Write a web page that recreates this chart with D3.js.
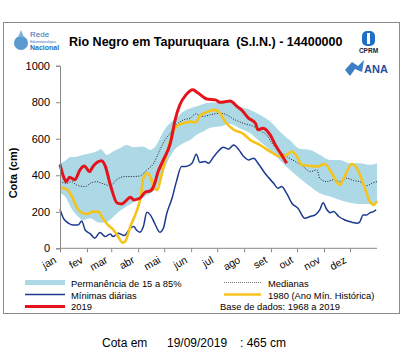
<!DOCTYPE html>
<html><head><meta charset="utf-8">
<script src="https://cdn.jsdelivr.net/npm/d3@7"></script>
<style>html,body{margin:0;padding:0;background:#fff;}svg{display:block;font-family:Arial,"Liberation Sans",sans-serif;}</style>
</head><body><svg id="c" width="416" height="360"></svg>
<script>
const monthLabels = ["jan","fev","mar","abr","mai","jun","jul","ago","set","out","nov","dez"];
const monthStarts = [0,31,59,90,120,151,181,212,243,273,304,334];
const yTicks = [0,200,400,600,800,1000];

// Permanência 15-85% band: [day, lower, upper]
const bandDays  = [0,6,12,19,27,35,42,47,54,61,69,77,84,88,94,100,104,111,117,123,129,136,142,150,157,165,173,184,196,207,219,230,242,253,265,276,288,299,311,322,334,345,357,365];
const bandLow   = [301,283,228,183,155,164,146,140,145,170,205,230,250,262,275,290,301,329,393,466,521,557,575,594,621,640,660,667,681,658,630,585,539,484,429,384,338,301,283,265,250,243,243,247];
const bandHigh  = [466,480,500,502,512,521,530,543,512,530,548,566,554,555,557,548,539,566,621,667,694,722,749,767,776,790,798,797,805,776,758,731,694,640,590,545,539,512,484,484,466,466,457,466];

// Medianas
const medDays = [0,8,13,19,29,35,42,48,58,65,75,84,92,100,108,115,121,127,134,142,150,156,165,173,184,192,200,211,223,232,238,244,251,261,271,280,288,296,299,307,315,322,330,338,345,353,359,365];
const medVals = [365,356,365,347,338,356,365,356,343,375,393,393,396,429,466,539,594,630,676,703,713,736,722,731,740,731,707,685,667,640,621,576,539,502,475,448,420,429,384,365,375,365,384,371,365,342,356,365];

// Mínimas diárias
const minDays = [0,4,10,15,21,25,29,35,40,46,52,58,61,67,74,81,85,88,92,96,100,104,109,115,119,123,129,134,140,145,152,157,161,167,171,177,182,188,194,200,206,211,217,223,228,236,246,251,255,261,267,274,282,288,294,299,303,307,311,315,321,328,336,342,345,349,353,357,361,364];
const minVals = [214,164,137,128,128,150,100,79,55,86,64,79,64,82,70,110,119,100,88,119,197,183,137,88,110,192,274,365,448,448,466,515,470,475,466,502,530,554,543,566,539,506,484,493,466,411,356,329,338,301,247,219,164,174,183,210,250,214,195,201,174,155,143,137,143,183,183,195,201,210];

// 1980 (Ano Mín. Histórica)
const y1980Days = [0,8,13,19,25,31,38,44,50,56,61,67,72,75,81,88,93,96,100,104,108,112,117,123,129,134,142,150,156,161,169,179,184,190,200,211,219,230,242,251,257,267,273,278,288,296,305,313,322,328,336,342,349,358,361,365];
const y1980Vals = [333,323,292,228,195,188,201,201,159,124,104,64,31,37,119,201,283,384,411,393,338,320,402,521,621,667,685,694,689,725,746,758,740,694,649,627,594,566,530,506,502,530,502,457,451,448,462,411,347,396,462,438,356,247,238,259];

// 2019
const y2019Days = [0,4,7,11,17,23,28,34,38,48,52,58,66,71,77,81,85,92,98,104,108,113,119,127,133,138,145,153,159,169,179,184,196,204,209,217,225,228,234,242,248,255,261];
const y2019Vals = [460,393,365,389,375,430,451,420,448,479,451,347,247,243,265,280,265,274,307,314,342,420,484,575,712,786,840,868,850,818,813,800,806,776,758,713,685,649,658,621,566,512,466];

const svg = d3.select("#c");
// frame
svg.append("rect").attr("x",3.5).attr("y",22.5).attr("width",396).attr("height",291)
  .attr("fill","#fff").attr("stroke","#8a8a8a").attr("stroke-width",1);

const x = d3.scaleLinear().domain([0,365]).range([60,377]);
const y = d3.scaleLinear().domain([0,1000]).range([248.3,65.7]);

// band
const band = bandDays.map((d,i)=>({d, lo:bandLow[i], hi:bandHigh[i]}));
svg.append("path").datum(band)
  .attr("d", d3.area().x(p=>x(p.d)).y0(p=>y(p.lo)).y1(p=>y(p.hi)).curve(d3.curveMonotoneX))
  .attr("fill","#add8e6");

const line = d3.line().x(p=>x(p[0])).y(p=>y(p[1])).curve(d3.curveMonotoneX);
const zipp = (a,b)=>a.map((d,i)=>[d,b[i]]);

svg.append("path").datum(zipp(medDays,medVals)).attr("d",line)
  .attr("fill","none").attr("stroke","#222").attr("stroke-width",1).attr("stroke-dasharray","1,1.5");
svg.append("path").datum(zipp(minDays,minVals)).attr("d",line)
  .attr("fill","none").attr("stroke","#1c3a8f").attr("stroke-width",1.5);
svg.append("path").datum(zipp(y1980Days,y1980Vals)).attr("d",line)
  .attr("fill","none").attr("stroke","#f6c31c").attr("stroke-width",2.6);
svg.append("path").datum(zipp(y2019Days,y2019Vals)).attr("d",line)
  .attr("fill","none").attr("stroke","#e3141b").attr("stroke-width",3);

// axes
const yAx = svg.append("g").attr("transform","translate(60,0)")
  .call(d3.axisLeft(y).tickValues(yTicks).tickSize(4).tickPadding(6).tickFormat(d3.format("d")));
yAx.selectAll("path,line").attr("stroke","#888");
yAx.selectAll("text").attr("font-size","11px").attr("fill","#000").attr("font-family","Arial, Liberation Sans, sans-serif");

const xAx = svg.append("g").attr("transform","translate(0,248.3)")
  .call(d3.axisBottom(x).tickValues(monthStarts.concat([365])).tickSize(4).tickFormat(""));
xAx.selectAll("path,line").attr("stroke","#888");
xAx.select(".domain").attr("d","M60,0H377");
xAx.selectAll(".tick").filter(d=>d===365).remove();
svg.append("g").selectAll("text").data(monthStarts).join("text")
  .attr("transform",(d,i)=>`translate(${x(d)-3},${262}) rotate(-30)`)
  .attr("text-anchor","end").attr("font-size","10.5px").attr("fill","#000")
  .text((d,i)=>monthLabels[i]);

// y label
svg.append("text").attr("transform","translate(17,173) rotate(-90)")
  .attr("text-anchor","middle").attr("font-size","11px").attr("font-weight","bold").text("Cota (cm)");

// title
svg.append("text").attr("x",69).attr("y",46).attr("font-size","12.5px").attr("font-weight","bold")
  .style("white-space","pre").text("Rio Negro em Tapuruquara  (S.I.N.) - 14400000");

// logos (simplified)
const lg = svg.append("g");
lg.append("circle").attr("cx",21).attr("cy",43).attr("r",7).attr("fill","#5b9bd0");
lg.append("path").attr("d","M21,30 L24,37 L18,37 Z").attr("fill","#7fb4de");
lg.append("text").attr("x",30).attr("y",37).attr("font-size","8px").attr("fill","#2d6db3").text("Rede");
lg.append("text").attr("x",30).attr("y",43).attr("font-size","3px").attr("fill","#2d6db3").text("Hidrometeorológica");
lg.append("text").attr("x",30).attr("y",50).attr("font-size","7px").attr("font-weight","bold").attr("fill","#2d6db3").text("Nacional");
lg.append("rect").attr("x",362).attr("y",31).attr("width",13).attr("height",15).attr("rx",5).attr("fill","#1f6fc5");
lg.append("rect").attr("x",367).attr("y",33).attr("width",3).attr("height",11).attr("fill","#fff");
lg.append("text").attr("x",368.5).attr("y",53).attr("text-anchor","middle").attr("font-size","6.5px").attr("font-weight","bold").attr("fill","#123").text("CPRM");
lg.append("path").attr("d","M345,70 L352,62 L358,66 L364,60 L362,72 L355,69 L350,76 Z").attr("fill","#3c7fc4");
lg.append("text").attr("x",364).attr("y",73).attr("font-size","11px").attr("font-weight","bold").attr("fill","#1f4f9a").text("ANA");

// legend
const leg = svg.append("g").attr("font-size","9.4px").attr("fill","#000");
leg.append("rect").attr("x",25).attr("y",280).attr("width",40).attr("height",5).attr("fill","#add8e6");
leg.append("text").attr("x",71).attr("y",286.5).text("Permanência de 15 a 85%");
leg.append("line").attr("x1",25).attr("x2",65).attr("y1",294.5).attr("y2",294.5).attr("stroke","#1c3a8f").attr("stroke-width",1.3);
leg.append("text").attr("x",71).attr("y",298.5).text("Mínimas diárias");
leg.append("line").attr("x1",25).attr("x2",65).attr("y1",306.5).attr("y2",306.5).attr("stroke","#e3141b").attr("stroke-width",3);
leg.append("text").attr("x",71).attr("y",310).text("2019");
leg.append("line").attr("x1",224).attr("x2",261).attr("y1",282.5).attr("y2",282.5).attr("stroke","#777").attr("stroke-width",1).attr("stroke-dasharray","1,1");
leg.append("text").attr("x",268).attr("y",286.5).text("Medianas");
leg.append("line").attr("x1",224).attr("x2",261).attr("y1",294.5).attr("y2",294.5).attr("stroke","#f6c31c").attr("stroke-width",2.6);
leg.append("text").attr("x",268).attr("y",298.5).text("1980 (Ano Mín. Histórica)");
leg.append("text").attr("x",220).attr("y",310).text("Base de dados: 1968 a 2019");

// bottom note
const bn = svg.append("g").attr("font-size","12px").attr("fill","#000");
bn.append("text").attr("x",102).attr("y",347).text("Cota em");
bn.append("text").attr("x",167).attr("y",347).text("19/09/2019");
bn.append("text").attr("x",240).attr("y",347).text(": 465 cm");
</script></body></html>
